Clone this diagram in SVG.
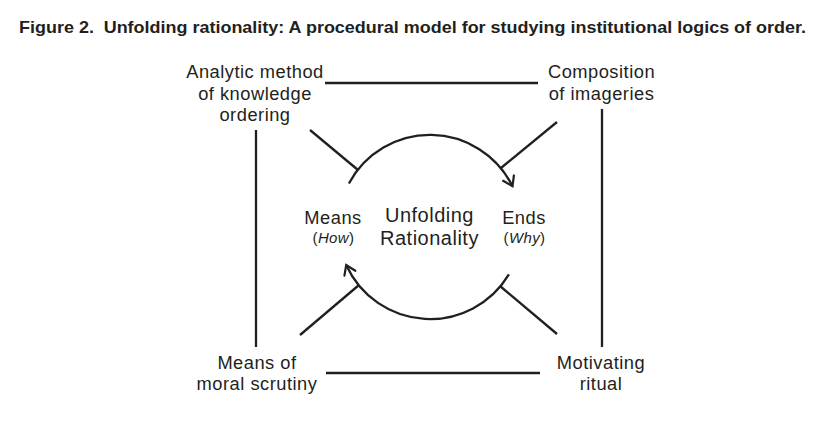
<svg xmlns="http://www.w3.org/2000/svg" width="824" height="423" viewBox="0 0 824 423">
<defs>
<style>
.lbl{font-family:"Liberation Sans",Arial,sans-serif;font-size:18.3px;letter-spacing:0.5px;fill:#231f20;text-anchor:middle}
.big{font-size:20px;letter-spacing:0.5px}
.sm{font-size:15px;letter-spacing:0.4px}
.ln{stroke:#231f20;stroke-width:2.3;fill:none;stroke-linecap:butt}
.title{font-family:"Liberation Sans Narrow","Liberation Sans",sans-serif;font-weight:bold;font-size:16.5px;fill:#231f20}
</style>
<marker id="arrow" markerUnits="userSpaceOnUse" viewBox="-12 -8 14 16" refX="0" refY="0" markerWidth="14" markerHeight="16" orient="auto">
<path d="M-9,-6 L0,0 L-9,6" fill="none" stroke="#231f20" stroke-width="2.2" stroke-linejoin="miter" stroke-linecap="round"/>
</marker>
</defs>
<rect width="824" height="423" fill="#fff"/>
<text class="title" x="19" y="32.5" textLength="787" lengthAdjust="spacingAndGlyphs">Figure 2.<tspan dx="9">Unfolding rationality: A procedural model for studying institutional logics of order.</tspan></text>

<g id="connectors">
<line class="ln" x1="325" y1="83" x2="538" y2="83"/>
<line class="ln" x1="326" y1="373" x2="540" y2="373"/>
<line class="ln" x1="256" y1="130" x2="256" y2="347"/>
<line class="ln" x1="602" y1="109" x2="602" y2="347"/>
<line class="ln" x1="310" y1="130" x2="358" y2="170"/>
<line class="ln" x1="557" y1="122" x2="501" y2="168"/>
<line class="ln" x1="300" y1="335" x2="359" y2="285"/>
<line class="ln" x1="557" y1="334" x2="500" y2="286"/>
<path class="ln" d="M348.9,183.5 A92,92 0 0 1 512.5,186.2" marker-end="url(#arrow)"/>
<path class="ln" d="M508.9,274.4 A92,92 0 0 1 346.2,265" marker-end="url(#arrow)"/>
</g>

<g id="analytic">
<text class="lbl" x="255" y="78">Analytic method</text>
<text class="lbl" x="255" y="99.5">of knowledge</text>
<text class="lbl" x="255" y="121">ordering</text>
</g>
<g id="composition">
<text class="lbl" x="601.5" y="78">Composition</text>
<text class="lbl" x="601.5" y="99.5">of imageries</text>
</g>
<g id="means-of">
<text class="lbl" x="257" y="369">Means of</text>
<text class="lbl" x="257" y="389.5">moral scrutiny</text>
</g>
<g id="motivating">
<text class="lbl" x="601" y="369">Motivating</text>
<text class="lbl" x="601" y="389.5">ritual</text>
</g>
<g id="means">
<text class="lbl" x="333" y="224">Means</text>
<text class="lbl sm" x="333.5" y="243">(<tspan font-style="italic">How</tspan>)</text>
</g>
<g id="unfolding">
<text class="lbl big" x="429.5" y="221.5">Unfolding</text>
<text class="lbl big" x="429.5" y="245">Rationality</text>
</g>
<g id="ends">
<text class="lbl" x="524" y="224">Ends</text>
<text class="lbl sm" x="524.5" y="243">(<tspan font-style="italic">Why</tspan>)</text>
</g>
</svg>
